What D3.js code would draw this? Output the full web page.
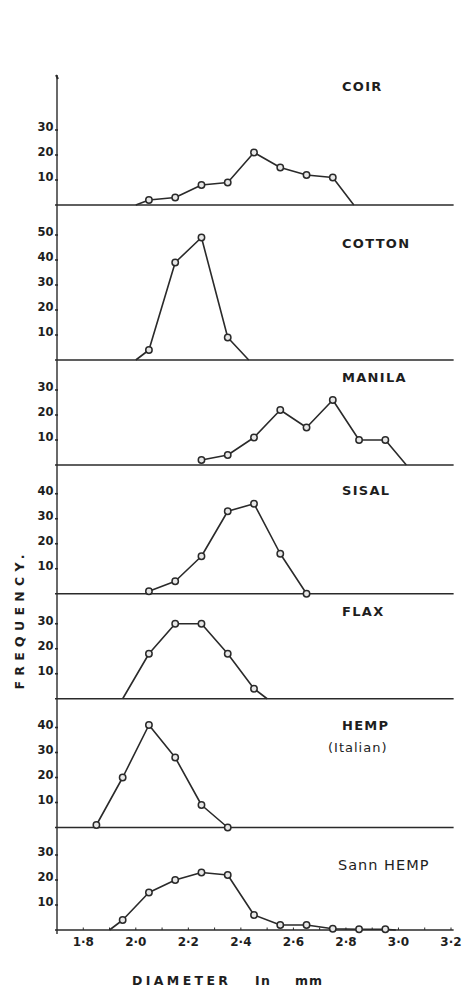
<!DOCTYPE html>
<html>
<head>
<meta charset="utf-8">
<script src="https://cdn.jsdelivr.net/npm/d3@7"></script>
<style>
  body { margin: 0; background: #fff; }
  text { font-family: "DejaVu Sans", sans-serif; fill: #1e1e1e; }
</style>
</head>
<body>
<svg width="462" height="991"></svg>
<script>
const names = ["COIR", "COTTON", "MANILA", "SISAL", "FLAX", "HEMP", "Sann HEMP"];
const subNames = ["", "", "", "", "", "(Italian)", ""];
const axisTop = [52, 62, 42, 51.5, 42, 51.5, 41];
const yTicks = [
  [10, 20, 30],
  [10, 20, 30, 40, 50],
  [10, 20, 30],
  [10, 20, 30, 40],
  [10, 20, 30],
  [10, 20, 30, 40],
  [10, 20, 30]
];
const xTicks = [1.8, 2.0, 2.2, 2.4, 2.6, 2.8, 3.0, 3.2];

// marker diameters (mm) and frequencies, one list per fibre
const diam = [
  [2.05, 2.15, 2.25, 2.35, 2.45, 2.55, 2.65, 2.75],
  [2.05, 2.15, 2.25, 2.35],
  [2.25, 2.35, 2.45, 2.55, 2.65, 2.75, 2.85, 2.95],
  [2.05, 2.15, 2.25, 2.35, 2.45, 2.55, 2.65],
  [2.05, 2.15, 2.25, 2.35, 2.45],
  [1.85, 1.95, 2.05, 2.15, 2.25, 2.35],
  [1.95, 2.05, 2.15, 2.25, 2.35, 2.45, 2.55, 2.65, 2.75, 2.85, 2.95]
];
const freq = [
  [2, 3, 8, 9, 21, 15, 12, 11],
  [4, 39, 49, 9],
  [2, 4, 11, 22, 15, 26, 10, 10],
  [1, 5, 15, 33, 36, 16, 0],
  [18, 30, 30, 18, 4],
  [1, 20, 41, 28, 9, 0],
  [4, 15, 20, 23, 22, 6, 2, 2, 0.5, 0.3, 0.3]
];
// where each curve meets the base line without a marker [left, right]
const feet = [
  [2.0, 2.83],
  [2.0, 2.43],
  [null, 3.03],
  [null, null],
  [1.95, 2.5],
  [null, null],
  [1.9, 2.99]
];

const svg = d3.select("svg");
const k = 2.5;          // px per frequency unit
const top0 = 75;
const titleDy = [16, 42.5, 21.5, 29.5, 22, 31.5, 42.5];

const x = d3.scaleLinear().domain([1.7, 3.2]).range([57, 451]);
const ink = "#2a2a2a";

let yCursor = top0;
const panels = names.map((n, i) => {
  const h = axisTop[i] * k;
  const p = { i, top: yCursor, base: yCursor + h };
  p.y = d3.scaleLinear().domain([0, axisTop[i]]).range([p.base, p.top]);
  yCursor += h;
  return p;
});
const bottom = panels[panels.length - 1].base;

// y axis spine
svg.append("line")
  .attr("x1", x(1.7)).attr("x2", x(1.7))
  .attr("y1", top0).attr("y2", bottom + 4)
  .attr("stroke", ink).attr("stroke-width", 1.4);
svg.append("line")
  .attr("x1", x(1.7) - 1).attr("x2", x(1.7) + 1)
  .attr("y1", top0).attr("y2", top0 + 4)
  .attr("stroke", ink).attr("stroke-width", 2);

const line = d3.line();

panels.forEach(p => {
  const i = p.i;
  const g = svg.append("g");

  // base line
  g.append("line")
    .attr("x1", x(1.7) - 2).attr("x2", x(3.21))
    .attr("y1", p.base).attr("y2", p.base)
    .attr("stroke", ink).attr("stroke-width", 1.4);

  // y ticks
  const t = g.selectAll("g.tick").data(yTicks[i]).enter().append("g");
  t.append("line")
    .attr("x1", x(1.7) - 2).attr("x2", x(1.7) + 1)
    .attr("y1", d => p.y(d)).attr("y2", d => p.y(d))
    .attr("stroke", ink).attr("stroke-width", 1.6);
  t.append("text")
    .attr("x", x(1.7) - 3.5)
    .attr("y", d => p.y(d) + 1)
    .attr("text-anchor", "end")
    .style("font-size", "11.5px")
    .style("font-weight", "bold")
    .text(d => d);

  // curve
  const pts = diam[i].map((d, j) => [x(d), p.y(freq[i][j])]);
  if (feet[i][0] != null) pts.unshift([x(feet[i][0]), p.y(0)]);
  if (feet[i][1] != null) pts.push([x(feet[i][1]), p.y(0)]);
  g.append("path")
    .attr("d", line(pts))
    .attr("fill", "none")
    .attr("stroke", ink)
    .attr("stroke-width", 1.6)
    .attr("stroke-linejoin", "round");

  g.selectAll("circle").data(diam[i]).enter().append("circle")
    .attr("cx", d => x(d))
    .attr("cy", (d, j) => p.y(freq[i][j]))
    .attr("r", 3.2)
    .attr("fill", "#e8e8e8")
    .attr("stroke", ink)
    .attr("stroke-width", 1.5);

  // title
  const bold = names[i] !== "Sann HEMP";
  g.append("text")
    .attr("x", bold ? 342 : 338)
    .attr("y", p.top + titleDy[i])
    .style("font-size", bold ? "13px" : "14.5px")
    .style("font-weight", bold ? "bold" : "normal")
    .style("letter-spacing", bold ? "1.3px" : "1px")
    .text(names[i]);
  if (subNames[i]) {
    g.append("text")
      .attr("x", 328)
      .attr("y", p.top + titleDy[i] + 21.5)
      .style("font-size", "13px")
      .style("letter-spacing", "1px")
      .text(subNames[i]);
  }
});

// x axis minor ticks and labels
svg.append("g").selectAll("line")
  .data(d3.range(18, 33).map(v => v / 10))
  .enter().append("line")
  .attr("x1", d => x(d)).attr("x2", d => x(d))
  .attr("y1", bottom).attr("y2", bottom - 2.5)
  .attr("stroke", ink).attr("stroke-width", 1);

svg.append("g").selectAll("text")
  .data(xTicks).enter().append("text")
  .attr("x", d => x(d))
  .attr("y", bottom + 16)
  .attr("text-anchor", "middle")
  .style("font-size", "12px")
  .style("font-weight", "bold")
  .text(d => d.toFixed(1).replace(".", "\u00b7"));

// axis titles
[["DIAMETER", 132, 96], ["In", 255, 15], ["mm", 295, 27]].forEach(([s, x0, w]) => {
  svg.append("text")
    .attr("x", x0).attr("y", 985)
    .attr("textLength", w).attr("lengthAdjust", "spacing")
    .style("font-size", "12.5px")
    .style("font-weight", "bold")
    .text(s);
});

svg.append("text")
  .attr("transform", "translate(24,622) rotate(-90)")
  .attr("text-anchor", "middle")
  .attr("textLength", 135).attr("lengthAdjust", "spacing")
  .style("font-size", "12.5px")
  .style("font-weight", "bold")
  .text("FREQUENCY.");
</script>
</body>
</html>
